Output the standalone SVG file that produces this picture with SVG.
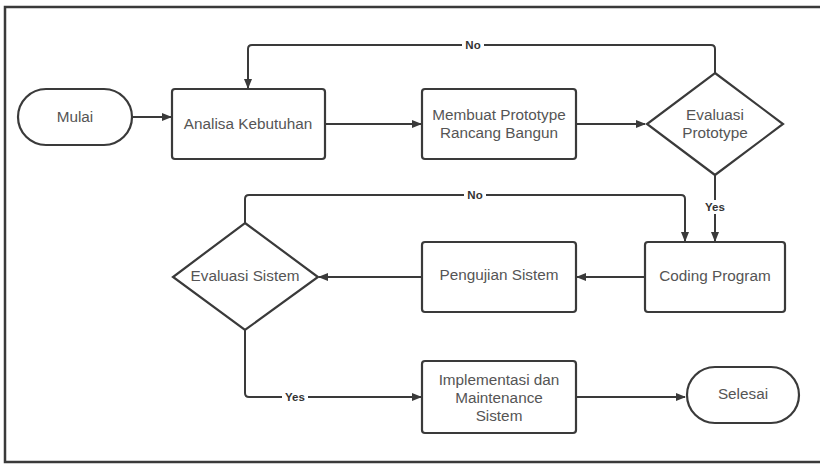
<svg xmlns="http://www.w3.org/2000/svg" width="820" height="464" viewBox="0 0 820 464">
<defs>
<style>
.shape{fill:#fff;stroke:#3a3a3a;stroke-width:2.2}
.conn{fill:none;stroke:#3a3a3a;stroke-width:2}
.t{font-family:"Liberation Sans",Arial,sans-serif;font-size:15.3px;fill:#555;text-anchor:middle;dominant-baseline:central}
.lbl{font-family:"Liberation Sans",Arial,sans-serif;font-size:11.5px;font-weight:bold;fill:#333;text-anchor:middle;dominant-baseline:central}
.lblbg{fill:#fff}
</style>
<marker id="arr" viewBox="0 0 10 10" refX="9" refY="5" markerWidth="10" markerHeight="10" markerUnits="userSpaceOnUse" orient="auto">
<path d="M0,1 L10,5 L0,9 Z" fill="#3a3a3a"/>
</marker>
</defs>
<rect x="0" y="0" width="820" height="464" fill="#fff"/>
<rect x="5" y="7" width="830" height="455" fill="none" stroke="#3a3a3a" stroke-width="2.5"/>

<g id="connectors">
<line class="conn" x1="132" y1="117" x2="171" y2="117" marker-end="url(#arr)"/>
<line class="conn" x1="325" y1="124" x2="421" y2="124" marker-end="url(#arr)"/>
<line class="conn" x1="576" y1="124" x2="645" y2="124" marker-end="url(#arr)"/>
<path class="conn" d="M715,73 V49 Q715,45 711,45 H252 Q248,45 248,49 V88" marker-end="url(#arr)"/>
<line class="conn" x1="715" y1="175" x2="715" y2="241" marker-end="url(#arr)"/>
<path class="conn" d="M245,223 V199 Q245,195 249,195 H681 Q685,195 685,199 V241" marker-end="url(#arr)"/>
<line class="conn" x1="645" y1="277" x2="577" y2="277" marker-end="url(#arr)"/>
<line class="conn" x1="422" y1="277" x2="319" y2="277" marker-end="url(#arr)"/>
<path class="conn" d="M245,330 V393 Q245,397 249,397 H421" marker-end="url(#arr)"/>
<line class="conn" x1="576" y1="397" x2="685" y2="397" marker-end="url(#arr)"/>
<rect class="lblbg" x="462" y="38" width="22" height="14"/>
<text class="lbl" x="473" y="45">No</text>
<rect class="lblbg" x="464" y="188" width="22" height="14"/>
<text class="lbl" x="475" y="195">No</text>
<rect class="lblbg" x="702" y="200" width="26" height="14"/>
<text class="lbl" x="715" y="207">Yes</text>
<rect class="lblbg" x="282" y="390" width="26" height="14"/>
<text class="lbl" x="295" y="397">Yes</text>
</g>

<g id="mulai">
<rect class="shape" x="18" y="89" width="114" height="56" rx="28"/>
<text class="t" x="75" y="116">Mulai</text>
</g>
<g id="analisa">
<rect class="shape" x="172" y="89" width="153" height="70" rx="3"/>
<text class="t" x="248" y="123">Analisa Kebutuhan</text>
</g>
<g id="membuat">
<rect class="shape" x="422" y="89" width="154" height="70" rx="3"/>
<text class="t" x="499" y="114">Membuat Prototype</text>
<text class="t" x="499" y="132">Rancang Bangun</text>
</g>
<g id="evaluasi-prototype">
<path class="shape" d="M715,73 L783,124 L715,175 L647,124 Z"/>
<text class="t" x="715" y="114">Evaluasi</text>
<text class="t" x="715" y="132">Prototype</text>
</g>
<g id="coding">
<rect class="shape" x="645" y="242" width="140" height="70" rx="3"/>
<text class="t" x="715" y="275">Coding Program</text>
</g>
<g id="pengujian">
<rect class="shape" x="422" y="242" width="154" height="70" rx="3"/>
<text class="t" x="499" y="274">Pengujian Sistem</text>
</g>
<g id="evaluasi-sistem">
<path class="shape" d="M245,223 L318,277 L245,330 L173,277 Z"/>
<text class="t" x="245" y="275">Evaluasi Sistem</text>
</g>
<g id="implementasi">
<rect class="shape" x="422" y="361" width="154" height="72" rx="3"/>
<text class="t" x="499" y="379">Implementasi dan</text>
<text class="t" x="499" y="397">Maintenance</text>
<text class="t" x="499" y="415">Sistem</text>
</g>
<g id="selesai">
<rect class="shape" x="687" y="367" width="112" height="56" rx="28"/>
<text class="t" x="743" y="393">Selesai</text>
</g>
</svg>
